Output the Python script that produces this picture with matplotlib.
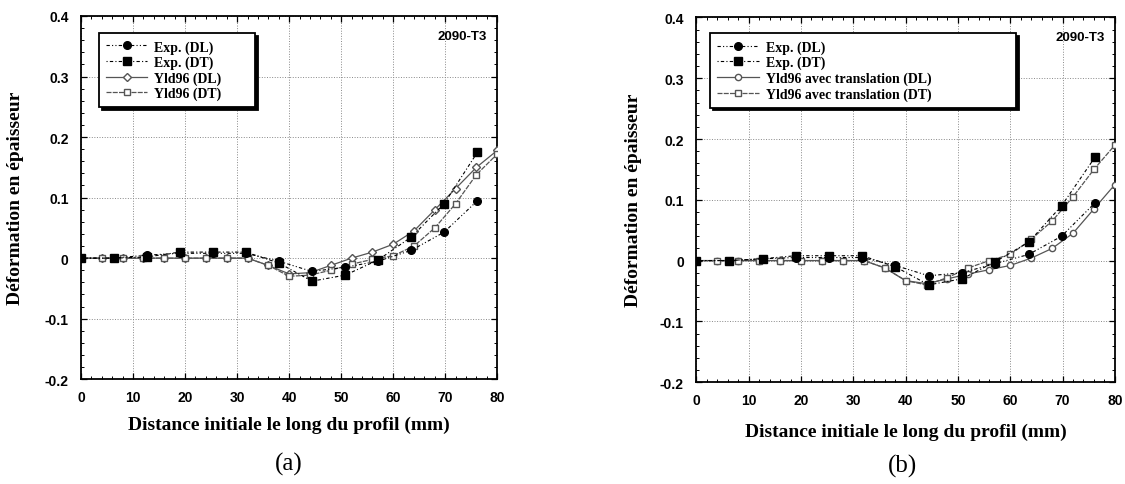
import matplotlib
matplotlib.use('Agg')
import matplotlib.pyplot as plt
from matplotlib.ticker import MultipleLocator

# positions des points (mm)
x_exp = [0, 6.3, 12.7, 19, 25.4, 31.7, 38, 44.4, 50.8, 57.1, 63.5, 69.8, 76.2]
x_mod = [0, 4, 8, 12, 16, 20, 24, 28, 32, 36, 40, 44, 48, 52, 56, 60, 64, 68, 72, 76, 80]

# (a) Yld96
a_exp_dl = [0, 0, 0.005, 0.008, 0.008, 0.008, -0.005, -0.022, -0.015, -0.005, 0.013, 0.043, 0.095]
a_exp_dt = [0, 0, 0.002, 0.01, 0.01, 0.01, -0.008, -0.038, -0.028, -0.003, 0.035, 0.09, 0.175]
a_mod_dl = [0, 0, 0, 0, 0, 0, 0, 0, 0, -0.012, -0.026, -0.024, -0.012, 0, 0.01, 0.023, 0.045, 0.08, 0.115, 0.15, 0.178]
a_mod_dt = [0, 0, 0, 0, 0, 0, 0, 0, 0, -0.012, -0.03, -0.028, -0.02, -0.01, -0.002, 0.004, 0.02, 0.05, 0.09, 0.138, 0.172]

# (b) Yld96 avec translation
b_exp_dl = [0, 0, 0.003, 0.005, 0.005, 0.005, -0.008, -0.025, -0.02, -0.005, 0.01, 0.04, 0.095]
b_exp_dt = [0, 0, 0.003, 0.008, 0.008, 0.008, -0.01, -0.04, -0.03, -0.002, 0.03, 0.09, 0.17]
b_mod_dl = [0, 0, 0, 0, 0, 0, 0, 0, 0, -0.012, -0.033, -0.038, -0.03, -0.022, -0.015, -0.008, 0.004, 0.02, 0.045, 0.085, 0.125]
b_mod_dt = [0, 0, 0, 0, 0, 0, 0, 0, 0, -0.012, -0.033, -0.04, -0.028, -0.012, 0, 0.01, 0.035, 0.065, 0.105, 0.15, 0.19]

serif = 'Liberation Serif'
sans = 'Liberation Sans'

fig = plt.figure(figsize=(11.25, 4.85), dpi=100)
ax1 = fig.add_axes([0.072, 0.216, 0.370, 0.749])
ax2 = fig.add_axes([0.619, 0.21, 0.372, 0.752])


def dessine(ax, exp_dl, exp_dt, mod_dl, mod_dt, lab_dl, lab_dt, mk_dl,
            leg_box, xlab_y, ylab_x):
    ax.plot(x_exp, exp_dl, color='black', lw=0.8, ls=(0, (3, 2, 1, 2, 1, 2)),
            marker='o', ms=5.5, label='Exp. (DL)', zorder=4)
    ax.plot(x_exp, exp_dt, color='black', lw=0.8, ls=(0, (1, 2, 3, 2)),
            marker='s', ms=5.5, label='Exp. (DT)', zorder=4)
    ax.plot(x_mod, mod_dl, color='#555555', lw=0.9, ls='-',
            marker=mk_dl, ms=4.5, mfc='white', mec='#555555', label=lab_dl, zorder=3)
    ax.plot(x_mod, mod_dt, color='#555555', lw=0.9, ls=(0, (4, 1)),
            marker='s', ms=5, mfc='white', mec='#555555', label=lab_dt, zorder=3)

    ax.set_xlim(0, 80)
    ax.set_ylim(-0.2, 0.4)
    ax.xaxis.set_major_locator(MultipleLocator(10))
    ax.xaxis.set_minor_locator(MultipleLocator(2))
    ax.yaxis.set_minor_locator(MultipleLocator(0.02))
    ax.set_yticks([-0.2, -0.1, 0, 0.1, 0.2, 0.3, 0.4])
    ax.set_yticklabels(['-0.2', '-0.1', '0', '0.1', '0.2', '0.3', '0.4'])
    ax.tick_params(which='both', direction='in', top=True, right=True)
    ax.tick_params(which='major', length=4, width=0.9)
    ax.tick_params(which='minor', length=2.5, width=0.7)
    ax.tick_params(axis='x', which='major', pad=8)
    ax.tick_params(axis='y', which='major', pad=9)
    for lbl in ax.get_xticklabels() + ax.get_yticklabels():
        lbl.set_fontfamily(sans)
        lbl.set_fontweight('bold')
        lbl.set_fontsize(10)
    ax.grid(True, which='major', color='#888888', ls=':', lw=0.7)
    for s in ax.spines.values():
        s.set_linewidth(1.3)

    ax.set_xlabel('Distance initiale le long du profil (mm)', fontfamily=serif,
                  fontweight='bold', fontsize=14)
    ax.set_ylabel('Déformation en épaisseur', fontfamily=serif,
                  fontweight='bold', fontsize=14)
    ax.xaxis.set_label_coords(0.5, xlab_y)
    ax.yaxis.set_label_coords(ylab_x, 0.5)
    ax.text(0.975, 0.945, '2090-T3', transform=ax.transAxes, ha='right', va='center',
            fontfamily=sans, fontweight='bold', fontsize=9.5)
    leg = ax.legend(loc='upper left', bbox_to_anchor=leg_box, mode='expand',
                    frameon=True, fancybox=False,
                    shadow={'color': 'black', 'alpha': 1.0},
                    edgecolor='black', framealpha=1,
                    handlelength=3.0, handletextpad=0.5, borderpad=0.5, labelspacing=0.15,
                    prop={'family': serif, 'weight': 'bold', 'size': 10})
    leg.get_frame().set_linewidth(1.3)


dessine(ax1, a_exp_dl, a_exp_dt, a_mod_dl, a_mod_dt,
        'Yld96 (DL)', 'Yld96 (DT)', 'D', (0.026, 0.5, 0.409, 0.472), -0.10, -0.137)
dessine(ax2, b_exp_dl, b_exp_dt, b_mod_dl, b_mod_dt,
        'Yld96 avec translation (DL)', 'Yld96 avec translation (DT)', 'o',
        (0.017, 0.5, 0.763, 0.475), -0.112, -0.129)

fig.text(0.257, 0.042, '(a)', ha='center', va='center', fontfamily=serif, fontsize=18)
fig.text(0.802, 0.038, '(b)', ha='center', va='center', fontfamily=serif, fontsize=18)

fig.savefig('out.png', dpi=100)
